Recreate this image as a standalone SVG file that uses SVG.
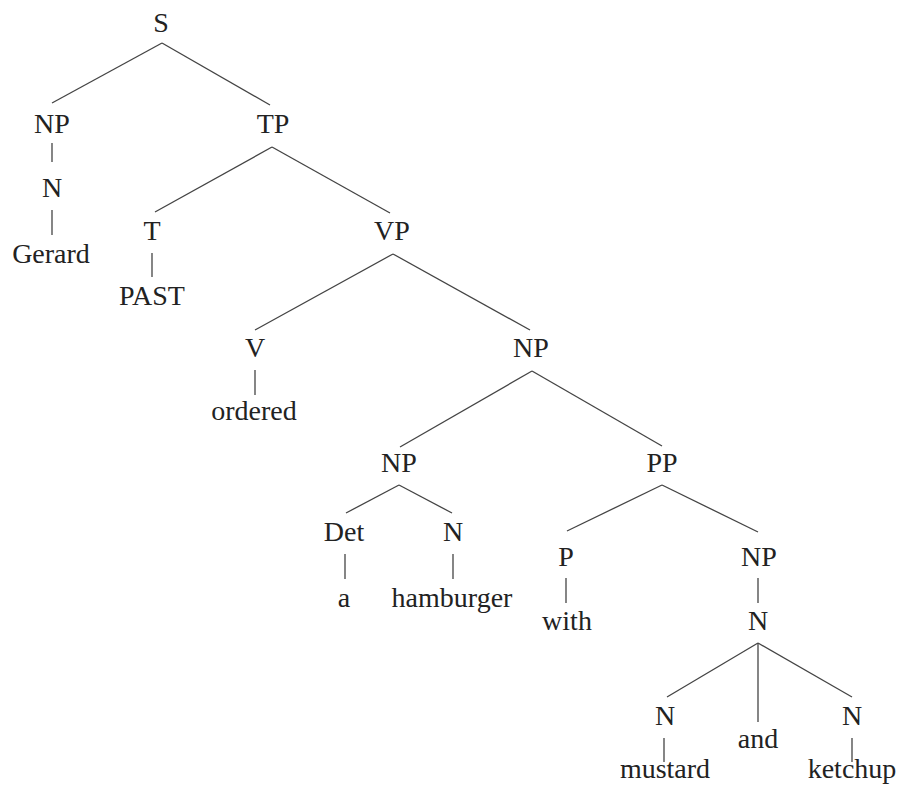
<svg xmlns="http://www.w3.org/2000/svg" width="899" height="799" viewBox="0 0 899 799">
<style>
text{font-family:"Liberation Serif",Times,"Times New Roman","DejaVu Serif",serif;font-size:28px;fill:#222;text-anchor:middle}
.e line{stroke:#444;stroke-width:1.3;fill:none}
</style>
<rect width="899" height="799" fill="#fff"/>
<g class="e" id="connectors">
<line x1="162" y1="43" x2="52" y2="103"/>
<line x1="162" y1="43" x2="270" y2="105"/>
<line x1="52" y1="143" x2="52" y2="162"/>
<line x1="52" y1="210" x2="52" y2="235"/>
<line x1="272" y1="147" x2="155" y2="212"/>
<line x1="272" y1="147" x2="390" y2="213"/>
<line x1="152" y1="253" x2="152" y2="277"/>
<line x1="393" y1="254" x2="255" y2="330"/>
<line x1="393" y1="254" x2="530" y2="330"/>
<line x1="255" y1="370" x2="255" y2="395"/>
<line x1="532" y1="371" x2="400" y2="447"/>
<line x1="532" y1="371" x2="662" y2="446"/>
<line x1="399" y1="485" x2="346" y2="513"/>
<line x1="399" y1="485" x2="452" y2="513"/>
<line x1="345" y1="554" x2="345" y2="579"/>
<line x1="453" y1="554" x2="453" y2="579"/>
<line x1="662" y1="485" x2="567" y2="531"/>
<line x1="662" y1="485" x2="758" y2="532"/>
<line x1="566" y1="578" x2="566" y2="603"/>
<line x1="758" y1="578" x2="758" y2="603"/>
<line x1="758" y1="643" x2="667" y2="697"/>
<line x1="758" y1="643" x2="758" y2="722"/>
<line x1="758" y1="643" x2="852" y2="697"/>
<line x1="664" y1="738" x2="664" y2="762"/>
<line x1="852" y1="738" x2="852" y2="762"/>
</g>
<g id="S"><text x="161" y="32">S</text></g>
<g id="NP1"><text x="52" y="133">NP</text></g>
<g id="TP"><text x="273" y="133">TP</text></g>
<g id="N1"><text x="52" y="197">N</text></g>
<g id="Gerard"><text x="51" y="263">Gerard</text></g>
<g id="T"><text x="152" y="240">T</text></g>
<g id="PAST"><text x="152" y="305">PAST</text></g>
<g id="VP"><text x="392" y="240">VP</text></g>
<g id="V"><text x="255" y="357">V</text></g>
<g id="ordered"><text x="254" y="420">ordered</text></g>
<g id="NP2"><text x="531" y="357">NP</text></g>
<g id="NP3"><text x="399" y="472">NP</text></g>
<g id="PP"><text x="662" y="472">PP</text></g>
<g id="Det"><text x="344" y="541">Det</text></g>
<g id="N2"><text x="453" y="541">N</text></g>
<g id="a"><text x="344" y="607">a</text></g>
<g id="hamburger"><text x="452" y="607">hamburger</text></g>
<g id="P"><text x="566" y="566">P</text></g>
<g id="NP4"><text x="759" y="566">NP</text></g>
<g id="with"><text x="567" y="630">with</text></g>
<g id="N3"><text x="758" y="630">N</text></g>
<g id="N4"><text x="665" y="725">N</text></g>
<g id="and"><text x="758" y="748">and</text></g>
<g id="N5"><text x="852" y="725">N</text></g>
<g id="mustard"><text x="665" y="778">mustard</text></g>
<g id="ketchup"><text x="852" y="778">ketchup</text></g>
</svg>
